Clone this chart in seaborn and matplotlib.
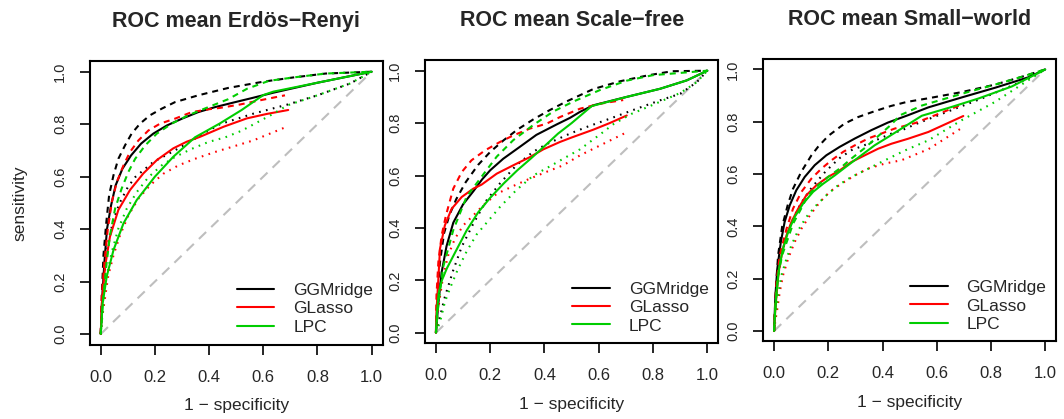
import matplotlib
matplotlib.use("Agg")
import matplotlib.pyplot as plt
from matplotlib.lines import Line2D
import seaborn as sns

# ---------------- data: mean ROC curves (false positive rate, true positive rate) ----------------
methods = ["GGMridge", "GLasso", "LPC"]
titles = ["ROC mean Erdös\u2212Renyi", "ROC mean Scale\u2212free", "ROC mean Small\u2212world"]
tick_values = [0.0, 0.2, 0.4, 0.6, 0.8, 1.0]
tick_labels = ["0.0", "0.2", "0.4", "0.6", "0.8", "1.0"]
chance_fpr = [0.0, 1.0]
chance_tpr = [0.0, 1.0]

# Erdös-Renyi
er_ggm_solid_fpr = [0, 0.006, 0.0135, 0.023, 0.038, 0.055, 0.08, 0.112, 0.149, 0.194, 0.244, 0.30, 0.36, 0.422, 0.496, 0.56, 0.637, 0.8, 1]
er_ggm_solid_tpr = [0, 0.147, 0.274, 0.40, 0.49, 0.567, 0.63, 0.681, 0.726, 0.764, 0.795, 0.821, 0.846, 0.865, 0.884, 0.90, 0.92, 0.958, 1]
er_ggm_dash_fpr = [0, 0.004, 0.01, 0.02, 0.031, 0.047, 0.065, 0.09, 0.114, 0.145, 0.182, 0.225, 0.274, 0.36, 0.47, 0.6, 0.71, 0.83, 1]
er_ggm_dash_tpr = [0, 0.15, 0.30, 0.42, 0.53, 0.605, 0.668, 0.72, 0.764, 0.802, 0.834, 0.859, 0.884, 0.91, 0.938, 0.962, 0.978, 0.993, 1]
er_ggm_dot_fpr = [0, 0.005, 0.012, 0.025, 0.045, 0.07, 0.1, 0.127, 0.194, 0.274, 0.348, 0.44, 0.563, 0.69, 0.8, 0.92, 1]
er_ggm_dot_tpr = [0, 0.12, 0.22, 0.33, 0.43, 0.50, 0.56, 0.598, 0.656, 0.70, 0.745, 0.80, 0.84, 0.875, 0.91, 0.955, 1]
er_gl_solid_fpr = [0, 0.004, 0.016, 0.034, 0.065, 0.108, 0.157, 0.207, 0.268, 0.317, 0.367, 0.453, 0.539, 0.613, 0.692]
er_gl_solid_tpr = [0, 0.117, 0.257, 0.371, 0.473, 0.549, 0.612, 0.663, 0.708, 0.733, 0.752, 0.79, 0.822, 0.839, 0.854]
er_gl_dash_fpr = [0, 0.004, 0.0135, 0.026, 0.041, 0.059, 0.084, 0.108, 0.139, 0.176, 0.219, 0.274, 0.336, 0.40, 0.44, 0.514, 0.588, 0.68]
er_gl_dash_tpr = [0, 0.147, 0.274, 0.40, 0.503, 0.579, 0.643, 0.694, 0.738, 0.776, 0.802, 0.821, 0.846, 0.857, 0.862, 0.875, 0.891, 0.91]
er_gl_dot_fpr = [0, 0.005, 0.0135, 0.028, 0.047, 0.071, 0.102, 0.139, 0.182, 0.231, 0.287, 0.348, 0.422, 0.483, 0.563, 0.686]
er_gl_dot_tpr = [0, 0.06, 0.122, 0.224, 0.30, 0.376, 0.452, 0.516, 0.567, 0.611, 0.643, 0.668, 0.694, 0.713, 0.738, 0.79]
er_lpc_solid_fpr = [0, 0.007, 0.022, 0.047, 0.084, 0.133, 0.20, 0.268, 0.348, 0.44, 0.52, 0.60, 0.637, 0.8, 1]
er_lpc_solid_tpr = [0, 0.117, 0.219, 0.32, 0.422, 0.511, 0.60, 0.676, 0.75, 0.803, 0.854, 0.911, 0.924, 0.958, 1]
er_lpc_dash_fpr = [0, 0.01, 0.022, 0.034, 0.053, 0.077, 0.102, 0.127, 0.164, 0.207, 0.262, 0.323, 0.397, 0.47, 0.54, 0.62, 0.71, 0.83, 1]
er_lpc_dash_tpr = [0, 0.15, 0.274, 0.376, 0.478, 0.554, 0.618, 0.668, 0.719, 0.764, 0.802, 0.834, 0.865, 0.895, 0.935, 0.965, 0.978, 0.993, 1]
er_lpc_dot_fpr = [0, 0.01, 0.022, 0.041, 0.065, 0.096, 0.133, 0.176, 0.225, 0.274, 0.336, 0.397, 0.46, 0.52, 0.625, 0.69, 0.8, 0.92, 1]
er_lpc_dot_tpr = [0, 0.122, 0.224, 0.313, 0.402, 0.478, 0.541, 0.598, 0.643, 0.675, 0.706, 0.732, 0.75, 0.775, 0.833, 0.872, 0.91, 0.955, 1]

# Scale-free
sf_ggm_solid_fpr = [0, 0.009, 0.021, 0.039, 0.064, 0.1, 0.138, 0.17, 0.2, 0.248, 0.31, 0.37, 0.445, 0.494, 0.531, 0.58, 0.703, 0.826, 0.924, 1]
sf_ggm_solid_tpr = [0, 0.112, 0.23, 0.33, 0.42, 0.49, 0.54, 0.585, 0.62, 0.664, 0.71, 0.755, 0.795, 0.82, 0.843, 0.868, 0.9, 0.931, 0.963, 1]
sf_ggm_dash_fpr = [0, 0.005, 0.015, 0.03, 0.05, 0.075, 0.11, 0.155, 0.2, 0.25, 0.3, 0.36, 0.42, 0.48, 0.58, 0.68, 0.78, 0.87, 1]
sf_ggm_dash_tpr = [0, 0.14, 0.27, 0.38, 0.45, 0.51, 0.575, 0.64, 0.69, 0.735, 0.775, 0.815, 0.85, 0.882, 0.93, 0.96, 0.982, 0.998, 1]
sf_ggm_dot_fpr = [0, 0.015, 0.033, 0.064, 0.095, 0.138, 0.187, 0.236, 0.297, 0.359, 0.408, 0.494, 0.555, 0.641, 0.74, 0.826, 0.9, 0.961, 1]
sf_ggm_dot_tpr = [0, 0.061, 0.137, 0.239, 0.328, 0.417, 0.506, 0.57, 0.64, 0.691, 0.72, 0.76, 0.785, 0.817, 0.855, 0.887, 0.912, 0.956, 1]
sf_gl_solid_fpr = [0, 0.002, 0.009, 0.015, 0.033, 0.058, 0.095, 0.138, 0.168, 0.224, 0.285, 0.346, 0.396, 0.457, 0.5, 0.58, 0.64, 0.703]
sf_gl_solid_tpr = [0, 0.079, 0.206, 0.321, 0.41, 0.473, 0.518, 0.55, 0.565, 0.607, 0.639, 0.67, 0.70, 0.728, 0.745, 0.775, 0.80, 0.829]
sf_gl_dash_fpr = [0, 0.002, 0.009, 0.021, 0.037, 0.064, 0.095, 0.131, 0.181, 0.236, 0.285, 0.346, 0.408, 0.457, 0.531, 0.605, 0.69]
sf_gl_dash_tpr = [0, 0.142, 0.27, 0.371, 0.448, 0.55, 0.613, 0.658, 0.696, 0.728, 0.753, 0.779, 0.798, 0.823, 0.855, 0.874, 0.888]
sf_gl_dot_fpr = [0, 0.005, 0.012, 0.027, 0.045, 0.07, 0.101, 0.138, 0.174, 0.224, 0.285, 0.346, 0.41, 0.469, 0.531, 0.617, 0.697]
sf_gl_dot_tpr = [0, 0.06, 0.117, 0.219, 0.295, 0.359, 0.41, 0.448, 0.486, 0.53, 0.56, 0.588, 0.615, 0.639, 0.677, 0.721, 0.762]
sf_lpc_solid_fpr = [0, 0.004, 0.01, 0.022, 0.04, 0.065, 0.113, 0.156, 0.2, 0.25, 0.3, 0.35, 0.4, 0.45, 0.5, 0.574, 0.703, 0.826, 0.924, 1]
sf_lpc_solid_tpr = [0, 0.08, 0.15, 0.2, 0.245, 0.295, 0.39, 0.46, 0.515, 0.57, 0.62, 0.665, 0.712, 0.76, 0.80, 0.865, 0.9, 0.931, 0.963, 1]
sf_lpc_dash_fpr = [0, 0.01, 0.027, 0.064, 0.113, 0.168, 0.224, 0.285, 0.359, 0.432, 0.506, 0.604, 0.703, 0.8, 1]
sf_lpc_dash_tpr = [0, 0.12, 0.252, 0.392, 0.519, 0.595, 0.672, 0.735, 0.793, 0.844, 0.882, 0.926, 0.962, 0.983, 1]
sf_lpc_dot_fpr = [0, 0.015, 0.033, 0.052, 0.08, 0.113, 0.15, 0.187, 0.236, 0.297, 0.359, 0.42, 0.469, 0.531, 0.605, 0.654, 0.72, 0.8, 0.9, 0.961, 1]
sf_lpc_dot_tpr = [0, 0.041, 0.117, 0.17, 0.24, 0.31, 0.375, 0.42, 0.48, 0.545, 0.6, 0.635, 0.664, 0.70, 0.757, 0.796, 0.835, 0.87, 0.915, 0.956, 1]

# Small-world
sw_ggm_solid_fpr = [0, 0.005, 0.012, 0.025, 0.039, 0.058, 0.082, 0.113, 0.15, 0.193, 0.242, 0.298, 0.359, 0.42, 0.494, 0.569, 0.692, 0.815, 0.938, 1]
sw_ggm_solid_tpr = [0, 0.136, 0.238, 0.34, 0.417, 0.481, 0.538, 0.589, 0.634, 0.672, 0.704, 0.736, 0.768, 0.797, 0.825, 0.855, 0.893, 0.93, 0.97, 1]
sw_ggm_dash_fpr = [0, 0.005, 0.009, 0.015, 0.03, 0.05, 0.07, 0.1, 0.138, 0.162, 0.2, 0.26, 0.31, 0.37, 0.43, 0.49, 0.57, 0.69, 0.815, 0.914, 1]
sw_ggm_dash_tpr = [0, 0.11, 0.2, 0.29, 0.4, 0.48, 0.544, 0.608, 0.672, 0.704, 0.746, 0.793, 0.818, 0.84, 0.86, 0.876, 0.89, 0.913, 0.942, 0.972, 1]
sw_ggm_dot_fpr = [0, 0.005, 0.012, 0.025, 0.045, 0.07, 0.1, 0.14, 0.19, 0.24, 0.285, 0.347, 0.39, 0.433, 0.47, 0.52, 0.569, 0.668, 0.766, 0.852, 0.938, 1]
sw_ggm_dot_tpr = [0, 0.1, 0.19, 0.28, 0.36, 0.43, 0.49, 0.55, 0.61, 0.66, 0.691, 0.716, 0.736, 0.755, 0.767, 0.79, 0.81, 0.85, 0.889, 0.927, 0.965, 1]
sw_gl_solid_fpr = [0, 0.004, 0.009, 0.017, 0.03, 0.046, 0.064, 0.089, 0.119, 0.156, 0.199, 0.242, 0.285, 0.335, 0.384, 0.433, 0.494, 0.569, 0.698]
sw_gl_solid_tpr = [0, 0.07, 0.136, 0.226, 0.302, 0.366, 0.417, 0.468, 0.519, 0.557, 0.589, 0.614, 0.646, 0.672, 0.697, 0.716, 0.735, 0.761, 0.822]
sw_gl_dash_fpr = [0, 0.004, 0.009, 0.021, 0.046, 0.07, 0.101, 0.138, 0.175, 0.212, 0.255, 0.298, 0.347, 0.396, 0.445, 0.52, 0.594, 0.686]
sw_gl_dash_tpr = [0, 0.1, 0.187, 0.289, 0.391, 0.468, 0.532, 0.583, 0.621, 0.653, 0.685, 0.71, 0.736, 0.755, 0.774, 0.795, 0.825, 0.863]
sw_gl_dot_fpr = [0, 0.005, 0.012, 0.021, 0.033, 0.052, 0.076, 0.101, 0.132, 0.169, 0.205, 0.248, 0.298, 0.347, 0.408, 0.47, 0.569, 0.698]
sw_gl_dot_tpr = [0, 0.04, 0.085, 0.149, 0.213, 0.277, 0.34, 0.391, 0.442, 0.493, 0.532, 0.563, 0.595, 0.621, 0.64, 0.653, 0.695, 0.78]
sw_lpc_solid_fpr = [0, 0.004, 0.009, 0.018, 0.033, 0.052, 0.076, 0.107, 0.144, 0.181, 0.224, 0.273, 0.322, 0.371, 0.421, 0.47, 0.545, 0.65, 0.754, 0.877, 1]
sw_lpc_solid_tpr = [0, 0.08, 0.149, 0.238, 0.315, 0.379, 0.436, 0.487, 0.532, 0.563, 0.595, 0.634, 0.672, 0.71, 0.742, 0.774, 0.823, 0.855, 0.889, 0.935, 1]
sw_lpc_dash_fpr = [0, 0.006, 0.015, 0.03, 0.05, 0.07, 0.1, 0.125, 0.162, 0.199, 0.242, 0.285, 0.335, 0.384, 0.433, 0.465, 0.545, 0.63, 0.72, 0.815, 0.914, 1]
sw_lpc_dash_tpr = [0, 0.11, 0.213, 0.29, 0.35, 0.41, 0.468, 0.519, 0.557, 0.589, 0.621, 0.659, 0.70, 0.745, 0.79, 0.825, 0.862, 0.888, 0.915, 0.942, 0.972, 1]
sw_lpc_dot_fpr = [0, 0.005, 0.015, 0.027, 0.046, 0.064, 0.089, 0.119, 0.156, 0.193, 0.236, 0.285, 0.335, 0.384, 0.433, 0.482, 0.569, 0.692, 0.815, 0.938, 1]
sw_lpc_dot_tpr = [0, 0.06, 0.136, 0.213, 0.277, 0.328, 0.385, 0.436, 0.481, 0.519, 0.557, 0.589, 0.614, 0.64, 0.665, 0.69, 0.729, 0.806, 0.876, 0.959, 1]

panels = [
    {
        "GGMridge": [(er_ggm_solid_fpr, er_ggm_solid_tpr), (er_ggm_dash_fpr, er_ggm_dash_tpr), (er_ggm_dot_fpr, er_ggm_dot_tpr)],
        "GLasso": [(er_gl_solid_fpr, er_gl_solid_tpr), (er_gl_dash_fpr, er_gl_dash_tpr), (er_gl_dot_fpr, er_gl_dot_tpr)],
        "LPC": [(er_lpc_solid_fpr, er_lpc_solid_tpr), (er_lpc_dash_fpr, er_lpc_dash_tpr), (er_lpc_dot_fpr, er_lpc_dot_tpr)],
    },
    {
        "GGMridge": [(sf_ggm_solid_fpr, sf_ggm_solid_tpr), (sf_ggm_dash_fpr, sf_ggm_dash_tpr), (sf_ggm_dot_fpr, sf_ggm_dot_tpr)],
        "GLasso": [(sf_gl_solid_fpr, sf_gl_solid_tpr), (sf_gl_dash_fpr, sf_gl_dash_tpr), (sf_gl_dot_fpr, sf_gl_dot_tpr)],
        "LPC": [(sf_lpc_solid_fpr, sf_lpc_solid_tpr), (sf_lpc_dash_fpr, sf_lpc_dash_tpr), (sf_lpc_dot_fpr, sf_lpc_dot_tpr)],
    },
    {
        "GGMridge": [(sw_ggm_solid_fpr, sw_ggm_solid_tpr), (sw_ggm_dash_fpr, sw_ggm_dash_tpr), (sw_ggm_dot_fpr, sw_ggm_dot_tpr)],
        "GLasso": [(sw_gl_solid_fpr, sw_gl_solid_tpr), (sw_gl_dash_fpr, sw_gl_dash_tpr), (sw_gl_dot_fpr, sw_gl_dot_tpr)],
        "LPC": [(sw_lpc_solid_fpr, sw_lpc_solid_tpr), (sw_lpc_dash_fpr, sw_lpc_dash_tpr), (sw_lpc_dot_fpr, sw_lpc_dot_tpr)],
    },
]

# ---------------- styling ----------------
sns.set_theme(style="ticks")
plt.rcParams["font.family"] = ["Liberation Sans", "DejaVu Sans"]
plt.rcParams["axes.unicode_minus"] = True

colors = {"GGMridge": "#000000", "GLasso": "#FF0000", "LPC": "#00CD00"}
line_styles = ["-", (0, (2.9, 2.4)), (0, (0.8, 2.6))]
curve_lw = 1.5

fig = plt.figure(figsize=(10.64, 4.19), dpi=100)
fig.patch.set_facecolor("white")
axes_boxes = [
    (0.0845, 0.1778, 0.2750, 0.6761),
    (0.3995, 0.1809, 0.2755, 0.6754),
    (0.7173, 0.1850, 0.2752, 0.6742),
]

for i, (box, title, curves) in enumerate(zip(axes_boxes, titles, panels)):
    ax = fig.add_axes(box)
    ax.set_facecolor("white")

    # chance diagonal
    sns.lineplot(x=chance_fpr, y=chance_tpr, ax=ax, color="#BEBEBE", linewidth=1.5,
                 linestyle=(0, (4.8, 3.4)), sort=False, estimator=None)

    for m in methods:
        for (fpr, tpr), ls in zip(curves[m], line_styles):
            sns.lineplot(x=fpr, y=tpr, ax=ax, color=colors[m], linewidth=curve_lw,
                         linestyle=ls, sort=False, estimator=None)

    ax.set_xlim(-0.04, 1.04)
    ax.set_ylim(-0.04, 1.04)
    ax.set_xticks(tick_values)
    ax.set_xticklabels(tick_labels)
    ax.set_yticks(tick_values)
    ax.set_yticklabels(tick_labels, rotation=90, va="center")
    ax.tick_params(axis="both", direction="out", length=7.5, width=1.2, color="black")
    ax.tick_params(axis="x", labelsize=12, pad=10.5)
    ax.tick_params(axis="y", labelsize=10.5, pad=9)
    for sp in ax.spines.values():
        sp.set_visible(True)
        sp.set_color("black")
        sp.set_linewidth(1.5)
    ax.grid(False)

    ax.set_title(title, fontsize=15.5, fontweight="bold", pad=24.5)
    ax.set_xlabel("1 \u2212 specificity", fontsize=12.5)
    ax.xaxis.set_label_coords(0.5, -0.19)
    if i == 0:
        ax.set_ylabel("sensitivity", fontsize=12.5)
        ax.yaxis.set_label_coords(-0.215, 0.5)
    else:
        ax.set_ylabel("")

    handles = [Line2D([0], [0], color=colors[m], linewidth=curve_lw) for m in methods]
    ax.legend(handles, methods, loc="upper left", bbox_to_anchor=(0.502, 0.218),
              frameon=False, fontsize=12.5, handlelength=2.15, handletextpad=1.1,
              labelspacing=0.19, borderpad=0, borderaxespad=0)

fig.savefig("out.png", dpi=100, facecolor="white")
